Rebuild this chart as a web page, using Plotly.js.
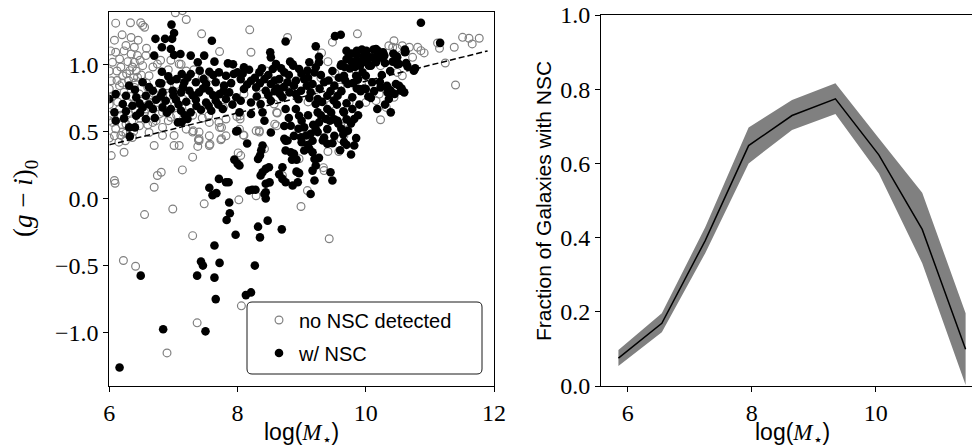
<!DOCTYPE html>
<html>
<head>
<meta charset="utf-8">
<script src="https://cdn.plot.ly/plotly-3.0.1.min.js"></script>
<style>html,body{margin:0;padding:0;background:#fff;}#chart{width:972px;height:447px;}</style>
</head>
<body>
<div id="chart"></div>
<script>
// ---- Left panel: galaxies with a detected nuclear star cluster (filled black) ----
var nscX = [6.16,6.84,7.50,6.49,7.37,7.64,7.66,7.43,7.46,7.72,7.64,8.13,8.21,8.27,7.97,8.32,8.35,8.47,8.69,7.83,7.88,7.87,7.56,7.61,7.67,7.71,7.82,7.86,8.18,8.23,8.28,8.42,8.44,8.44,7.95,8.00,8.03,7.98,8.15,8.32,8.35,8.39,8.37,8.49,8.44,8.39,8.36,8.44,8.50,8.70,8.65,8.70,8.75,8.86,8.96,8.94,8.92,9.17,9.22,9.20,9.14,9.45,9.48,8.73,8.78,8.75,8.83,8.88,8.85,8.92,9.04,9.12,9.17,9.20,9.27,8.99,9.07,9.14,9.25,9.33,9.40,9.48,9.66,9.82,9.77,8.73,8.88,9.22,9.40,9.27,9.38,9.51,9.35,9.17,8.75,8.52,9.57,9.51,9.44,9.65,9.70,9.77,9.56,9.66,9.79,9.82,9.72,9.65,9.70,9.25,9.40,9.22,8.83,9.04,8.96,8.75,8.91,8.42,8.21,8.03,8.39,10.18,10.39,10.36,10.00,10.23,10.34,10.39,10.47,10.55,10.60,10.10,10.00,10.05,10.08,10.16,10.00,10.05,10.10,10.16,10.23,10.29,10.49,10.62,10.52,10.65,10.75,10.86,11.16,9.52,9.61,8.75,9.22,9.27,8.51,8.52,8.60,8.82,8.87,9.12,9.27,9.61,9.72,9.85,9.95,9.66,9.85,9.95,9.70,9.78,9.86,9.94,10.01,10.12,10.19,10.27,10.25,10.17,10.06,9.96,9.86,9.78,9.70,9.62,9.67,9.75,9.83,9.91,10.43,10.61,8.10,8.34,8.55,8.73,8.96,9.09,9.22,8.00,8.05,8.21,8.42,8.52,8.65,8.78,8.91,9.04,9.17,9.35,9.51,9.72,9.90,8.10,8.29,8.44,8.62,8.81,8.99,9.14,9.25,9.40,9.56,9.79,8.05,8.21,8.36,8.52,8.70,8.91,9.86,9.92,9.97,10.04,10.22,10.33,10.35,10.52,10.56,10.77,10.63,10.48,10.49,10.61,6.97,7.01,6.98,6.72,6.87,6.82,6.70,6.96,7.01,7.11,7.27,7.48,7.38,7.64,7.85,7.60,7.93,6.82,7.13,7.27,7.41,7.56,7.71,7.82,7.94,6.81,6.96,7.17,7.35,7.51,7.66,7.79,6.52,6.31,6.68,6.83,6.99,7.12,7.25,7.40,7.56,7.72,7.87,6.10,6.26,6.42,6.57,6.73,6.88,7.04,7.20,7.35,7.51,7.66,7.82,7.98,6.00,6.21,6.36,6.52,6.68,6.83,6.96,7.12,7.27,7.43,7.59,7.77,6.08,6.23,6.42,6.57,6.10,6.31,7.07,7.22,6.32,8.00,6.40,6.71,7.13,
  8.08,8.18,8.27,8.38,8.48,8.58,8.68,8.80,8.86,9.00,9.10,9.20,9.30,9.42,9.48,9.58,9.68,9.80,9.88,8.15,8.35,8.58,8.72,8.88,9.08,9.28,9.45,9.62,8.30,8.48,8.66,8.95,9.12,9.32,9.50,9.70,
  6.40,6.62,6.78,6.92,7.05,7.22,7.47,7.62,7.90,6.47,6.62,6.80,7.00,7.15,7.30,7.46,7.62,7.78,7.92,7.08,7.36,7.55,7.70,6.90,7.18,6.26,6.48,
  8.80,9.00,9.10,9.18,9.30,9.46,9.55,9.62,9.88,9.90,9.00,9.10,8.95,9.60,9.85,10.08,10.13,10.30,10.45,10.25,10.38,10.30,10.42];
var nscY = [-1.26,-0.975,-0.99,-0.575,-0.575,-0.59,-0.75,-0.47,-0.50,-0.48,-0.35,-0.72,-0.70,-0.50,-0.27,-0.21,-0.29,-0.165,-0.23,-0.16,-0.11,-0.03,0.08,0.025,0.04,0.146,0.121,0.121,0.06,0.065,0.065,0.034,0.047,0.00,0.29,0.26,0.246,0.50,0.41,0.295,0.32,0.395,0.36,0.233,0.221,0.196,0.171,0.11,0.12,0.233,0.18,0.146,0.121,0.097,0.189,0.121,0.20,0.208,0.246,0.134,0.034,0.196,0.134,0.445,0.432,0.358,0.345,0.333,0.29,0.29,0.358,0.37,0.345,0.295,0.303,0.457,0.47,0.482,0.495,0.432,0.408,0.412,0.42,0.395,0.328,0.54,0.467,0.517,0.517,0.567,0.592,0.467,0.455,0.43,0.43,0.492,0.56,0.59,0.58,0.65,0.59,0.56,0.58,0.642,0.667,0.592,0.505,0.48,0.40,0.642,0.667,0.704,0.542,0.53,0.617,0.667,0.667,0.58,0.63,0.642,0.642,0.667,0.642,0.741,0.816,0.828,0.791,0.803,0.853,0.803,0.791,0.866,0.915,0.99,0.99,1.015,1.04,1.052,1.052,1.114,1.077,1.065,1.052,1.094,1.002,0.985,0.953,1.31,1.16,1.21,1.22,1.17,1.134,1.057,1.09,1.052,1.002,1.02,0.99,1.015,1.015,0.99,1.04,1.077,1.015,0.915,0.915,0.94,1.10,1.08,1.10,1.11,1.10,1.11,1.10,1.09,1.05,1.06,1.05,1.06,1.03,1.02,1.04,1.00,0.98,0.97,0.98,0.99,1.08,1.09,0.978,0.94,0.965,0.94,0.965,0.953,0.978,0.94,0.89,0.878,0.89,0.853,0.89,0.866,0.878,0.89,0.853,0.866,0.841,0.853,0.816,0.816,0.828,0.803,0.821,0.791,0.803,0.791,0.741,0.766,0.766,0.754,0.729,0.716,0.704,0.729,0.754,0.778,0.82,0.80,0.82,0.76,0.87,0.84,0.82,0.84,0.82,0.97,1.01,1.06,1.00,1.11,1.296,1.234,1.19,1.19,1.19,1.127,1.065,1.114,1.07,1.077,1.065,1.065,1.015,1.02,1.007,1.176,1.0,0.945,0.928,0.928,0.953,0.945,0.94,0.915,0.928,0.858,0.878,0.866,0.866,0.853,0.866,0.841,0.866,0.841,0.803,0.791,0.803,0.791,0.803,0.791,0.803,0.778,0.791,0.778,0.766,0.754,0.766,0.736,0.729,0.736,0.721,0.736,0.716,0.729,0.741,0.754,0.741,0.704,0.691,0.679,0.667,0.679,0.667,0.654,0.642,0.662,0.654,0.667,0.642,0.597,0.617,0.592,0.58,0.53,0.567,0.592,0.463,0.505,0.53,0.60,0.57,
  0.93,0.96,0.90,0.97,0.92,0.88,0.97,0.92,1.00,0.93,0.90,0.94,0.92,0.88,0.95,0.90,0.88,0.86,0.89,0.85,0.86,0.80,0.83,0.84,0.84,0.82,0.80,0.80,0.76,0.77,0.78,0.74,0.75,0.72,0.73,0.71,
  0.81,0.83,0.86,0.91,0.89,0.90,0.89,0.92,0.86,0.71,0.70,0.76,0.77,0.83,0.77,0.82,0.77,0.80,0.70,0.70,0.69,0.69,0.70,0.64,0.62,0.65,0.64,
  0.60,0.58,0.62,0.55,0.62,0.64,0.70,0.52,0.62,0.70,0.42,0.40,0.52,0.36,0.45,0.75,0.80,0.70,0.78,0.92,0.95,1.01,1.02];

// ---- Left panel: galaxies without a detected NSC (open grey) ----
var noX = [6.22,6.41,7.37,6.90,8.06,6.55,6.99,7.48,7.30,8.02,8.29,8.99,9.43,6.70,6.75,6.81,7.14,7.30,8.01,6.08,6.09,6.03,6.23,9.34,9.41,9.58,9.35,9.09,8.70,8.96,8.42,8.05,8.10,8.34,9.61,9.66,6.70,7.01,7.09,7.30,7.40,7.39,7.38,7.56,7.74,6.21,6.18,6.26,6.83,7.01,7.31,7.40,7.57,7.75,7.71,7.75,7.55,7.78,8.09,8.29,7.99,8.04,8.61,8.58,8.83,9.19,6.10,6.33,6.49,6.52,7.03,7.14,7.20,7.44,8.19,8.21,7.72,8.78,9.87,9.48,9.31,9.41,9.52,9.22,8.10,8.39,8.57,8.62,8.34,8.61,8.04,9.61,9.72,9.74,8.83,8.03,10.44,10.36,10.42,10.49,10.57,10.68,10.81,10.86,10.91,11.12,11.15,11.38,11.51,11.61,11.66,11.77,11.24,11.40,10.73,10.23,10.49,10.57,10.05,10.21,10.16,10.44,10.32,10.23,10.00,6.55,6.34,6.26,6.39,6.10,6.23,6.34,6.44,6.57,6.05,6.16,6.29,6.39,6.52,6.75,7.09,6.32,6.21,6.44,6.62,6.03,6.16,6.39,6.60,6.00,6.23,6.47,6.65,6.83,6.96,7.25,6.16,6.05,6.26,6.47,6.68,6.83,6.62,6.36,6.08,6.57,6.75,7.20,7.56,7.72,7.56,7.40,7.82,7.82,6.12,6.18,6.27,6.36,6.42,6.48,6.12,6.20,6.30,6.38,6.50,6.05,6.13,6.28,6.34,6.45,6.52,6.62,6.70,6.78,6.90,6.95,7.05,7.15,7.02,6.90,6.78,6.65,6.55,6.40,6.30,6.18,6.02,6.10,6.20,6.35,6.48,6.60,6.73,6.92,7.05,7.30,7.45,6.15,6.38,6.02,6.08,6.20,6.45,6.58,6.68,6.80,6.92,6.96,7.12,7.20,7.32,7.45,7.60,6.40,6.58,6.00,6.00,6.00,6.00,6.25,8.45,8.70,9.00,9.30,9.10,9.45,9.85,9.60];
var noY = [-0.462,-0.505,-0.927,-1.151,-0.80,-0.12,-0.078,-0.04,-0.277,-0.01,0.02,-0.06,-0.30,0.084,0.171,0.196,0.213,0.308,0.34,0.134,0.114,0.32,0.345,0.23,0.35,0.35,0.208,0.059,0.171,0.296,0.37,0.32,0.47,0.495,0.445,0.47,0.395,0.395,0.395,0.495,0.495,0.437,0.388,0.395,0.437,0.495,0.47,0.487,0.47,0.47,0.504,0.446,0.404,0.446,0.566,0.529,0.616,0.678,0.474,0.504,0.611,0.616,0.641,0.554,0.82,0.82,1.307,1.31,1.31,1.29,1.384,1.40,1.334,1.227,1.257,1.09,1.095,1.20,1.227,1.165,1.085,1.02,0.933,0.811,0.778,0.778,0.704,0.637,0.505,0.542,0.592,0.542,0.512,0.716,0.803,0.517,1.176,1.139,1.127,1.119,1.139,1.127,1.127,1.102,1.085,1.159,1.119,1.127,1.201,1.194,1.152,1.194,1.01,0.846,1.052,0.99,0.94,0.915,0.866,0.778,0.729,0.754,0.679,0.587,0.716,1.276,1.20,1.14,1.127,1.09,1.10,1.077,1.065,1.065,1.015,1.04,1.02,1.015,0.99,1.002,1.002,0.953,0.915,0.903,0.915,0.878,0.841,0.828,0.828,0.816,0.791,0.778,0.716,0.642,0.605,0.679,0.667,0.567,0.555,0.542,0.567,0.53,0.492,0.455,0.467,0.667,0.716,0.517,0.567,0.53,0.467,0.43,0.467,0.592,0.95,0.98,0.93,0.98,0.95,1.03,0.88,0.86,0.88,0.90,0.92,0.76,0.72,0.72,0.76,0.71,0.74,0.76,0.78,0.82,0.84,0.77,0.85,0.74,0.69,0.70,0.63,0.62,0.64,0.66,0.64,0.62,0.62,0.52,0.55,0.58,0.60,0.55,0.58,0.58,0.62,0.62,0.60,0.42,0.50,1.10,1.18,1.22,1.18,1.12,0.98,1.03,0.96,1.03,1.00,0.95,0.96,0.90,0.90,0.86,0.86,0.70,0.95,0.45,0.58,0.43,0.95,0.85,0.92,0.90,0.72,0.70,0.95,0.83];

// dividing line (dashed)
var divX = [6.0, 11.9];
var divY = [0.40, 1.10];

// ---- Right panel: fraction of galaxies with NSC per mass bin ----
var fracX  = [5.85, 6.55, 7.25, 7.95, 8.65, 9.35, 10.05, 10.75, 11.45];
var fracY  = [0.075, 0.169, 0.392, 0.648, 0.729, 0.774, 0.623, 0.422, 0.099];
var fracLo = [0.054, 0.145, 0.358, 0.600, 0.690, 0.733, 0.573, 0.331, 0.003];
var fracHi = [0.097, 0.196, 0.428, 0.697, 0.771, 0.816, 0.668, 0.521, 0.196];

var leftTicks = [-1.0, -0.5, 0.0, 0.5, 1.0];
var rightTicks = [0.0, 0.2, 0.4, 0.6, 0.8, 1.0];

var SERIF = "Liberation Serif, DejaVu Serif, serif";
var SANS = "Liberation Sans, Arial, sans-serif";
var W = 972, H = 447;
function px(x){ return x / W; }
function py(y){ return 1 - y / H; }

var traces = [
  {
    x: noX, y: noY, type: 'scatter', mode: 'markers', name: 'no NSC detected',
    xaxis: 'x', yaxis: 'y', legend: 'legend',
    marker: {symbol: 'circle', size: 7.8, color: 'rgba(0,0,0,0)', line: {color: '#808080', width: 1.2}}
  },
  {
    x: nscX, y: nscY, type: 'scatter', mode: 'markers', name: 'w/ NSC',
    xaxis: 'x', yaxis: 'y', legend: 'legend2',
    marker: {symbol: 'circle', size: 8.6, color: '#000000', line: {width: 0}}
  },
  {
    x: divX, y: divY, type: 'scatter', mode: 'lines', showlegend: false,
    xaxis: 'x', yaxis: 'y', line: {color: '#000', width: 1.5, dash: '6px,3px'}
  },
  {
    x: fracX, y: fracLo, type: 'scatter', mode: 'lines', showlegend: false,
    xaxis: 'x2', yaxis: 'y2', line: {width: 0, color: 'rgba(0,0,0,0)'}
  },
  {
    x: fracX, y: fracHi, type: 'scatter', mode: 'lines', showlegend: false,
    xaxis: 'x2', yaxis: 'y2', fill: 'tonexty', fillcolor: '#808080', line: {width: 0, color: 'rgba(0,0,0,0)'}
  },
  {
    x: fracX, y: fracY, type: 'scatter', mode: 'lines', showlegend: false,
    xaxis: 'x2', yaxis: 'y2', line: {color: '#000', width: 1.5}
  }
];

// rounded legend frame (paper coords)
var bx0 = px(247), bx1 = px(482), byT = py(302), byB = py(374);
var rx = 5 / W, ry = 5 / H;
var framePath = 'M' + (bx0 + rx) + ',' + byB + ' L' + (bx1 - rx) + ',' + byB +
  ' Q' + bx1 + ',' + byB + ' ' + bx1 + ',' + (byB + ry) +
  ' L' + bx1 + ',' + (byT - ry) + ' Q' + bx1 + ',' + byT + ' ' + (bx1 - rx) + ',' + byT +
  ' L' + (bx0 + rx) + ',' + byT + ' Q' + bx0 + ',' + byT + ' ' + bx0 + ',' + (byT - ry) +
  ' L' + bx0 + ',' + (byB + ry) + ' Q' + bx0 + ',' + byB + ' ' + (bx0 + rx) + ',' + byB + ' Z';

var axCommon = {
  showgrid: false, zeroline: false, showline: true, linecolor: '#000', linewidth: 1,
  ticks: 'outside', ticklen: 5, tickwidth: 1, tickcolor: '#000',
  tickfont: {family: SERIF, size: 24, color: '#000'}
};

var layout = {
  width: W, height: H,
  margin: {l: 0, r: 0, t: 0, b: 0},
  paper_bgcolor: '#fff', plot_bgcolor: '#fff',
  showlegend: true,
  xaxis: Object.assign({}, axCommon, {
    domain: [px(109.3), px(494)], range: [6, 12], tickvals: [6, 8, 10, 12], ticktext: ['6','8','10','12'],
    mirror: true, anchor: 'y'
  }),
  yaxis: Object.assign({}, axCommon, {
    domain: [py(386), py(12)], range: [-1.3975, 1.390], tickvals: leftTicks,
    ticktext: leftTicks.map(function(v){ return (v < 0 ? '\u2212' : '') + Math.abs(v).toFixed(1); }),
    mirror: true, anchor: 'x'
  }),
  xaxis2: Object.assign({}, axCommon, {
    domain: [px(601), 1], range: [5.569, 11.553], tickvals: [6, 8, 10], ticktext: ['6','8','10'],
    mirror: true, anchor: 'y2'
  }),
  yaxis2: Object.assign({}, axCommon, {
    domain: [py(386), py(15)], range: [0, 1], tickvals: rightTicks,
    ticktext: rightTicks.map(function(v){ return v.toFixed(1); }),
    mirror: false, anchor: 'x2'
  }),
  legend: {
    x: px(259), y: py(320), xanchor: 'left', yanchor: 'middle',
    bgcolor: 'rgba(0,0,0,0)', borderwidth: 0, itemwidth: 30,
    font: {family: SANS, size: 20, color: '#000'}
  },
  legend2: {
    x: px(259), y: py(353), xanchor: 'left', yanchor: 'middle',
    bgcolor: 'rgba(0,0,0,0)', borderwidth: 0, itemwidth: 30,
    font: {family: SANS, size: 20, color: '#000'}
  },
  shapes: [{
    type: 'path', xref: 'paper', yref: 'paper', path: framePath,
    fillcolor: 'rgba(255,255,255,0.85)', line: {color: '#1a1a1a', width: 1}, layer: 'above'
  }],
  annotations: [
    {xref: 'paper', yref: 'paper', x: px(301.5), y: py(433), xanchor: 'center', yanchor: 'middle', showarrow: false,
     text: 'log(<span style="font-family:Liberation Serif"><i>M</i></span><sub>\u22c6</sub>)', font: {family: SANS, size: 23, color: '#000'}},
    {xref: 'paper', yref: 'paper', x: px(792), y: py(433), xanchor: 'center', yanchor: 'middle', showarrow: false,
     text: 'log(<span style="font-family:Liberation Serif"><i>M</i></span><sub>\u22c6</sub>)', font: {family: SANS, size: 23, color: '#000'}},
    {xref: 'paper', yref: 'paper', x: px(25), y: py(199), xanchor: 'center', yanchor: 'middle', showarrow: false, textangle: -90,
     text: '(<i>g</i> \u2212 <i>i</i>)<sub>0</sub>', font: {family: SERIF, size: 27, color: '#000'}},
    {xref: 'paper', yref: 'paper', x: px(543), y: py(201), xanchor: 'center', yanchor: 'middle', showarrow: false, textangle: -90,
     text: 'Fraction of Galaxies with NSC', font: {family: SANS, size: 21, color: '#000'}}
  ]
};

Plotly.newPlot('chart', traces, layout, {displayModeBar: false, staticPlot: true});
</script>
</body>
</html>
